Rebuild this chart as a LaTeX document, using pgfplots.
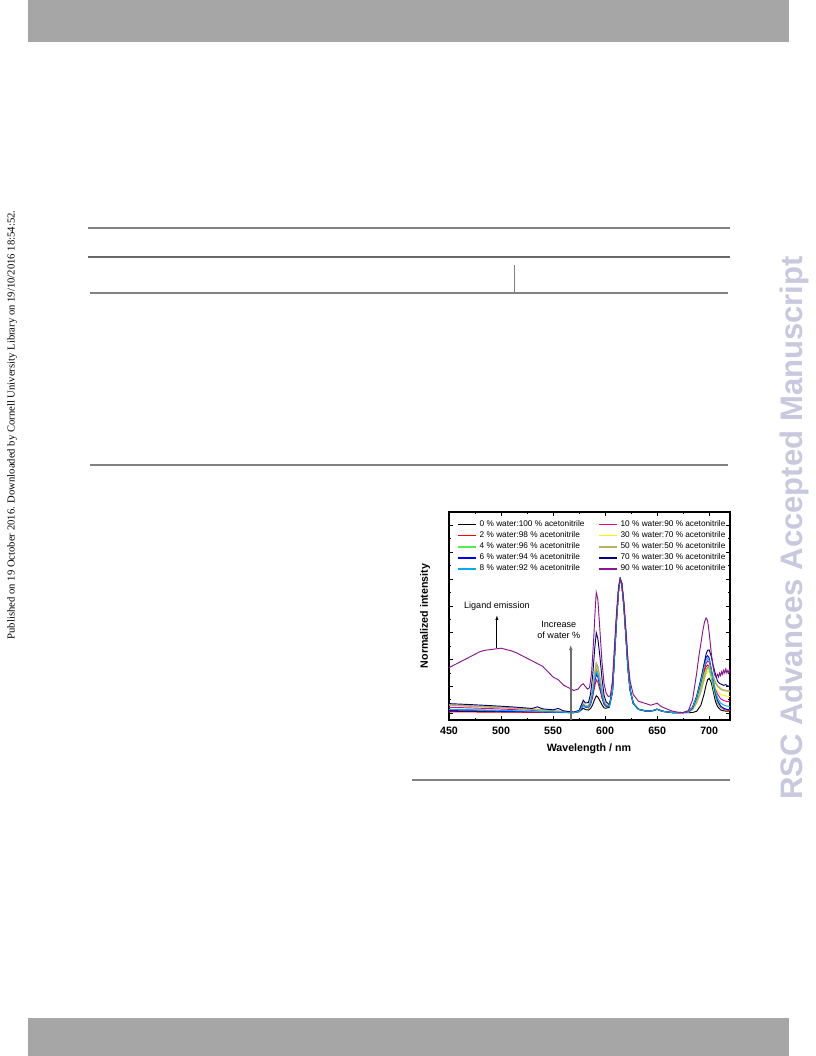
\documentclass[border=0pt]{standalone}
\usepackage{fontspec}
\setmainfont{Liberation Sans}
\newfontfamily\timesfont{Liberation Serif}
\usepackage{pgfplots}
\pgfplotsset{compat=1.18}
\usetikzlibrary{arrows.meta}
\definecolor{barg}{RGB}{166,166,166}
\definecolor{rulegray}{RGB}{130,130,130}
\definecolor{wm}{RGB}{200,200,222}
\definecolor{cgreen}{RGB}{80,240,80}
\definecolor{colive}{RGB}{180,176,100}
\definecolor{cnavy}{RGB}{0,0,128}
\definecolor{cpurple}{RGB}{140,20,140}
\definecolor{arrgray}{RGB}{110,110,110}
\begin{document}
\begin{tikzpicture}
\useasboundingbox (0,0) rectangle (612pt,792pt);
\fill[white] (0,0) rectangle (612pt,792pt);
\fill[barg] (21pt,792pt) rectangle (591.75pt,760.5pt);
\fill[barg] (21pt,0pt) rectangle (591.75pt,28.5pt);
\draw[rulegray,line width=0.9pt] (66pt,621pt) -- (547.5pt,621pt);
\draw[rulegray!80!black,line width=1.4pt] (66pt,599.25pt) -- (547.5pt,599.25pt);
\draw[rulegray,line width=1.1pt] (67.5pt,572.25pt) -- (546pt,572.25pt);
\draw[rulegray,line width=0.6pt] (385.5pt,593pt) -- (385.5pt,572.25pt);
\draw[rulegray,line width=1.1pt] (67.5pt,443.25pt) -- (546pt,443.25pt);
\draw[rulegray,line width=0.9pt] (309pt,207pt) -- (547.5pt,207pt);
\node[rotate=90,font=\timesfont\fontsize{8}{9}\selectfont,inner sep=0pt] at (9pt,473.25pt) {Published on 19 October 2016. Downloaded by Cornell University Library on 19/10/2016 18:54:52.};
\node[rotate=90,font=\bfseries\fontsize{23.3}{25}\selectfont,text=wm,inner sep=0pt] at (595.5pt,396pt) {RSC Advances Accepted Manuscript};
\begin{axis}[
  at={(336.75pt,252pt)}, anchor=south west,
  scale only axis, width=210.75pt, height=156pt,
  xmin=450, xmax=720, ymin=-0.05, ymax=1.5,
  xtick={450,500,...,700}, minor x tick num=1,
  ytick={0,0.2,...,1.4}, minor y tick num=1, yticklabels={},
  tick align=inside, tick pos=both,
  major tick length=3pt, minor tick length=1.6pt,
  every tick/.style={black,line width=0.6pt},
  axis line style={line width=0.8pt},
  /pgf/number format/assume math mode=true,
  tick label style={font=\bfseries\fontsize{8}{9}\selectfont},
  xticklabel style={yshift=-1.5pt},
  xlabel={Wavelength / nm}, ylabel={Normalized intensity},
  every axis x label/.style={at={(axis description cs:0.498,-0.139)},anchor=center,font=\bfseries\fontsize{8}{9}\selectfont},
  every axis y label/.style={at={(axis description cs:-0.085,0.5)},rotate=90,anchor=center,font=\bfseries\fontsize{8}{9}\selectfont},
  legend style={at={(axis description cs:0.013,0.985)},anchor=north west,draw=none,fill=none,
    font=\fontsize{6.2}{7}\selectfont, row sep=-1.7pt,
    /tikz/every even column/.append style={column sep=8pt}},
  legend columns=2, legend cell align=left,
  legend image code/.code={\draw[#1,line width=1.1pt] (0pt,0pt) -- (14pt,0pt);},
  no markers, every axis plot/.append style={line width=0.7pt},
]
\addplot[black] coordinates {(450,.015)(490,.012)(530,.009)(550,.007)(570,.005)(575,.011)(577,.024)(579,.038)(581,.028)(584,.024)(586,.036)(588,.063)(590,.105)(591.5,.13)(593,.121)(595,.093)(597,.063)(599,.04)(601,.038)(604,.045)(607,.157)(609,.425)(611,.705)(613,.925)(614.5,1.0)(616,.965)(618,.805)(620,.575)(622,.335)(624,.175)(627,.075)(632,.03)(640,.015)(646,.02)(650,.03)(655,.015)(665,.005)(675,.005)(680,.005)(684,.006)(688,.015)(692,.06)(695,.14)(697,.21)(698.5,.25)(700,.26)(702,.23)(704,.16)(706,.09)(708,.05)(711,.025)(714,.018)(717,.015)(720,.015)};
\addlegendentry{0 \% water:100 \% acetonitrile}
\addplot[magenta] coordinates {(450,.045)(490,.035)(530,.022)(550,.014)(570,.006)(575,.016)(577,.038)(579,.062)(581,.048)(584,.048)(586,.082)(588,.154)(590,.265)(591.5,.33)(593,.307)(595,.233)(597,.147)(599,.08)(601,.058)(604,.053)(607,.16)(609,.425)(611,.705)(613,.925)(614.5,1.0)(616,.965)(618,.805)(620,.575)(622,.335)(624,.175)(627,.075)(632,.03)(640,.015)(646,.02)(650,.03)(655,.015)(665,.005)(675,.005)(680,.012)(684,.038)(688,.109)(692,.217)(695,.316)(697,.372)(698.5,.39)(700,.381)(702,.323)(704,.245)(706,.183)(708,.142)(711,.108)(714,.095)(717,.088)(720,.085)};
\addlegendentry{10 \% water:90 \% acetonitrile}
\addplot[red] coordinates {(450,.010)(490,.009)(530,.007)(550,.006)(570,.005)(575,.015)(577,.037)(579,.06)(581,.045)(584,.04)(586,.064)(588,.118)(590,.201)(591.5,.25)(593,.233)(595,.177)(597,.113)(599,.064)(601,.05)(604,.05)(607,.159)(609,.425)(611,.705)(613,.925)(614.5,1.0)(616,.965)(618,.805)(620,.575)(622,.335)(624,.175)(627,.075)(632,.03)(640,.015)(646,.02)(650,.03)(655,.015)(665,.005)(675,.005)(680,.012)(684,.04)(688,.109)(692,.214)(695,.303)(697,.348)(698.5,.36)(700,.344)(702,.277)(704,.191)(706,.123)(708,.079)(711,.044)(714,.03)(717,.023)(720,.02)};
\addlegendentry{2 \% water:98 \% acetonitrile}
\addplot[yellow] coordinates {(450,.06)(490,.046)(530,.028)(550,.017)(570,.007)(575,.017)(577,.045)(579,.072)(581,.055)(584,.052)(586,.087)(588,.163)(590,.281)(591.5,.35)(593,.326)(595,.247)(597,.155)(599,.084)(601,.06)(604,.054)(607,.16)(609,.425)(611,.705)(613,.925)(614.5,1.0)(616,.965)(618,.805)(620,.575)(622,.335)(624,.175)(627,.075)(632,.03)(640,.015)(646,.02)(650,.03)(655,.015)(665,.005)(675,.005)(680,.01)(684,.028)(688,.079)(692,.159)(695,.24)(697,.291)(698.5,.31)(700,.311)(702,.277)(704,.229)(706,.189)(708,.164)(711,.141)(714,.132)(717,.127)(720,.125)};
\addlegendentry{30 \% water:70 \% acetonitrile}
\addplot[cgreen] coordinates {(450,.025)(490,.02)(530,.013)(550,.009)(570,.005)(575,.015)(577,.038)(579,.061)(581,.048)(584,.047)(586,.079)(588,.149)(590,.257)(591.5,.32)(593,.298)(595,.225)(597,.142)(599,.078)(601,.057)(604,.053)(607,.16)(609,.425)(611,.705)(613,.925)(614.5,1.0)(616,.965)(618,.805)(620,.575)(622,.335)(624,.175)(627,.075)(632,.03)(640,.015)(646,.02)(650,.03)(655,.015)(665,.005)(675,.005)(680,.011)(684,.037)(688,.103)(692,.201)(695,.286)(697,.328)(698.5,.34)(700,.326)(702,.264)(704,.184)(706,.121)(708,.08)(711,.048)(714,.035)(717,.028)(720,.025)};
\addlegendentry{4 \% water:96 \% acetonitrile}
\addplot[colive,line width=1.2pt,legend image post style={line width=1.8pt}] coordinates {(450,.062)(490,.047)(530,.03)(550,.018)(570,.007)(575,.017)(577,.045)(579,.072)(581,.056)(584,.054)(586,.091)(588,.172)(590,.297)(591.5,.37)(593,.344)(595,.261)(597,.163)(599,.088)(601,.062)(604,.055)(607,.161)(609,.425)(611,.705)(613,.925)(614.5,1.0)(616,.965)(618,.805)(620,.575)(622,.335)(624,.175)(627,.075)(632,.03)(640,.015)(646,.02)(650,.03)(655,.015)(665,.005)(675,.005)(680,.01)(684,.028)(688,.082)(692,.168)(695,.257)(697,.317)(698.5,.34)(700,.344)(702,.314)(704,.268)(706,.229)(708,.204)(711,.181)(714,.172)(717,.167)(720,.165)};
\addlegendentry{50 \% water:50 \% acetonitrile}
\addplot[blue] coordinates {(450,.02)(490,.016)(530,.011)(550,.008)(570,.005)(575,.015)(577,.038)(579,.061)(581,.046)(584,.044)(586,.073)(588,.136)(590,.233)(591.5,.29)(593,.27)(595,.205)(597,.13)(599,.072)(601,.054)(604,.051)(607,.159)(609,.425)(611,.705)(613,.925)(614.5,1.0)(616,.965)(618,.805)(620,.575)(622,.335)(624,.175)(627,.075)(632,.03)(640,.015)(646,.02)(650,.03)(655,.015)(665,.005)(675,.005)(680,.013)(684,.046)(688,.13)(692,.255)(695,.362)(697,.416)(698.5,.43)(700,.411)(702,.331)(704,.229)(706,.148)(708,.095)(711,.054)(714,.037)(717,.029)(720,.025)};
\addlegendentry{6 \% water:94 \% acetonitrile}
\addplot[cnavy] coordinates {(450,.072)(470,.065)(490,.057)(510,.048)(530,.036)(535,.048)(540,.033)(550,.026)(555,.036)(560,.018)(570,.009)(575,.021)(577,.059)(579,.097)(581,.077)(584,.08)(586,.144)(588,.277)(590,.481)(591.5,.60)(593,.558)(595,.422)(597,.26)(599,.134)(601,.085)(604,.064)(607,.164)(609,.425)(611,.705)(613,.925)(614.5,1.0)(616,.965)(618,.805)(620,.575)(622,.335)(624,.175)(627,.075)(632,.03)(640,.015)(646,.02)(650,.03)(655,.015)(665,.005)(675,.005)(680,.012)(684,.039)(688,.117)(692,.238)(695,.362)(697,.44)(698.5,.47)(700,.472)(702,.423)(704,.351)(706,.292)(708,.24)(710,.222)(712,.215)(714,.208)(716,.214)(718,.2)(720,.207)};
\addlegendentry{70 \% water:30 \% acetonitrile}
\addplot[cyan] coordinates {(450,.03)(490,.024)(530,.015)(550,.01)(570,.005)(575,.015)(577,.038)(579,.061)(581,.047)(584,.046)(586,.077)(588,.145)(590,.249)(591.5,.31)(593,.289)(595,.219)(597,.138)(599,.076)(601,.056)(604,.052)(607,.16)(609,.425)(611,.705)(613,.925)(614.5,1.0)(616,.965)(618,.805)(620,.575)(622,.335)(624,.175)(627,.075)(632,.03)(640,.015)(646,.02)(650,.03)(655,.015)(665,.005)(675,.005)(680,.013)(684,.043)(688,.12)(692,.237)(695,.341)(697,.395)(698.5,.41)(700,.396)(702,.325)(704,.234)(706,.162)(708,.114)(711,.076)(714,.061)(717,.054)(720,.05)};
\addlegendentry{8 \% water:92 \% acetonitrile}
\addplot[cpurple] coordinates {(450,.34)(455,.36)(460,.38)(465,.40)(470,.42)(475,.44)(480,.46)(485,.47)(490,.475)(495,.48)(500,.485)(505,.475)(510,.465)(515,.45)(520,.43)(525,.41)(530,.39)(535,.37)(540,.35)(545,.31)(550,.27)(555,.25)(560,.21)(565,.19)(570,.17)(574,.18)(577,.21)(579,.22)(581,.2)(583,.18)(585,.19)(587,.3)(589,.55)(590.5,.78)(591.5,.9)(593,.85)(595,.62)(597,.38)(599,.22)(601,.15)(603,.125)(605,.13)(607,.24)(609,.5)(611,.75)(613,.95)(614.5,1.0)(616,.97)(618,.83)(620,.62)(622,.4)(624,.24)(627,.14)(632,.09)(638,.075)(644,.06)(648,.07)(650,.075)(654,.05)(660,.03)(665,.015)(670,.008)(675,.005)(680,.02)(684,.1)(686,.2)(688,.3)(690,.42)(692,.52)(694,.62)(695.5,.68)(697,.71)(698.5,.69)(700,.6)(702,.45)(703.5,.36)(705,.29)(706.5,.27)(708,.29)(709,.27)(710,.3)(711,.28)(712,.31)(713,.29)(714,.32)(715,.3)(716,.33)(717,.3)(718,.32)(719,.3)(720,.33)};
\addlegendentry{90 \% water:10 \% acetonitrile}
\node[font=\fontsize{6.8}{8}\selectfont] at (axis cs:496,0.80) {Ligand emission};
\draw[-{Latex[length=3.5pt,width=2.5pt]},line width=0.6pt] (axis cs:496,0.49) -- (axis cs:496,0.73);
\node[font=\fontsize{6.8}{8.2}\selectfont,align=center] at (axis cs:555.5,0.62) {Increase\\of water \%};
\draw[-{Latex[length=4pt,width=3pt]},arrgray,line width=1.1pt] (axis cs:567,-0.05) -- (axis cs:567,0.51);
\end{axis}
\end{tikzpicture}
\end{document}
